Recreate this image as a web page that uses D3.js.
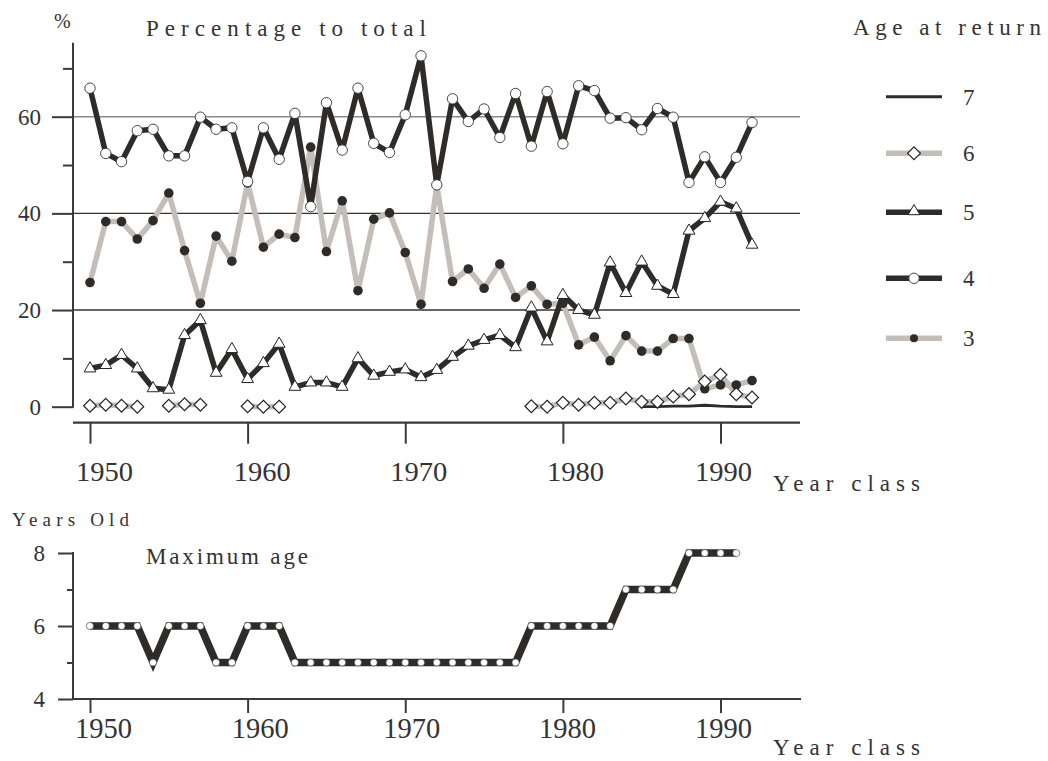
<!DOCTYPE html>
<html><head><meta charset="utf-8">
<script src="https://cdn.jsdelivr.net/npm/d3@7"></script>
<style>
html,body{margin:0;padding:0;background:#fff;}
text{font-family:"Liberation Serif","DejaVu Serif",serif !important;fill:#333;}
</style></head>
<body><svg id="c" width="1048" height="761"></svg>
<script>
const years = d3.range(1950, 1993);
const age3 = [25.7,38.3,38.3,34.7,38.5,44.2,32.3,21.4,35.3,30.1,
  46.3,33.0,35.7,35.0,53.7,32.1,42.6,24.0,38.8,40.1,
  31.9,21.2,45.8,25.9,28.5,24.5,29.5,22.6,25.0,21.2,
  21.4,12.8,14.4,9.5,14.7,11.5,11.5,14.1,14.1,3.7,
  4.5,4.5,5.4];
const age4 = [65.9,52.4,50.7,57.1,57.4,51.9,51.9,59.9,57.4,57.7,
  46.6,57.7,51.2,60.7,41.4,62.9,53.1,65.9,54.5,52.6,
  60.4,72.6,45.9,63.7,59.0,61.6,55.7,64.8,53.9,65.2,
  54.4,66.4,65.4,59.7,59.8,57.3,61.7,59.9,46.4,51.7,
  46.4,51.6,58.8];
const age5 = [7.9,8.6,10.7,7.9,3.8,3.5,14.8,17.9,7.0,11.9,
  5.7,9.0,13.0,4.1,5.0,5.0,4.1,10.0,6.4,7.2,
  7.7,6.1,7.6,10.3,12.6,13.8,14.8,12.3,20.5,13.5,
  23.1,20.0,19.0,29.8,23.5,30.0,25.0,23.3,36.4,39.0,
  42.4,41.0,33.5];
const age6 = [0.2,0.4,0.2,0.0,null,0.2,0.5,0.4,null,null,
  0.1,0.0,0.0,null,null,null,null,null,null,null,
  null,null,null,null,null,null,null,null,0.1,0.0,
  0.8,0.4,0.8,0.8,1.7,1.0,1.0,2.1,2.6,5.2,
  6.6,2.6,1.9];
const age7 = [null,null,null,null,null,null,null,null,null,null,
  null,null,null,null,null,null,null,null,null,null,
  null,null,null,null,null,null,null,null,null,null,
  null,null,null,null,null,0.0,0.0,0.1,0.1,0.3,
  0.1,0.0,0.0];
const maxYears = d3.range(1950, 1992);
const maxAge = [6,6,6,6,5,6,6,6,5,5,6,6,6,
  5,5,5,5,5,5,5,5,5,5,5,5,5,5,5,
  6,6,6,6,6,6,7,7,7,7,8,8,8,8];
const xTicks = [1950,1960,1970,1980,1990];
const yMajor = [0,20,40,60];
const yMinor = [10,30,50,70];
const y2Major = [4,6,8];
const y2Minor = [5,7];
const legendLabels = ["7","6","5","4","3"];

const DARK = "#2e2b28", GRAY = "#c3beb9", AX = "#3a3a3a";
const SERIF = '"Liberation Serif","DejaVu Serif",serif';
const svg = d3.select("#c");

const x = d3.scaleLinear().domain([1950,1990]).range([90,720.5]);
const y = d3.scaleLinear().domain([0,60]).range([406.7,116.7]);
const y2 = d3.scaleLinear().domain([4,8]).range([699,553]);

// label offsets as seen in the reference
const topDx = {1950:14,1960:14,1970:13,1980:12,1990:2.5};
const botDx = {1950:13,1960:12,1970:6,1980:4,1990:2.5};

function label(txt, xx, yy, size, len, anchor){
  const t = svg.append("text").attr("x",xx).attr("y",yy).text(txt)
    .style("font-size",size+"px").style("font-family",SERIF).attr("text-anchor",anchor||"start");
  if(len) t.attr("textLength",len).attr("lengthAdjust","spacing");
  return t;
}

// gridlines
const grid = svg.append("g");
grid.selectAll("line").data([20,40,60]).join("line")
  .attr("x1",73).attr("x2",800).attr("y1",d=>y(d)).attr("y2",d=>y(d))
  .attr("stroke",d=>d===60?"#8a8a8a":"#333").attr("stroke-width",1.4);

// top y axis
const gy = svg.append("g").attr("transform","translate(73,0)");
gy.call(d3.axisLeft(y).tickValues(yMajor).tickSize(21).tickSizeOuter(0).tickFormat(d3.format("d")))
  .call(g=>g.select(".domain").remove()).attr("font-family",null);
gy.selectAll(".tick line").attr("stroke",AX).attr("stroke-width",2);
gy.selectAll(".tick text").attr("x",-32).attr("dy","0.33em").style("font-size","23px").style("font-family",SERIF).attr("fill","#444");
gy.append("g").call(d3.axisLeft(y).tickValues(yMinor).tickSize(10).tickFormat(""))
  .call(g=>g.select(".domain").remove())
  .selectAll(".tick line").attr("stroke",AX).attr("stroke-width",2);
gy.append("line").attr("x1",0).attr("x2",0).attr("y1",y(75.3)).attr("y2",y(0)+1).attr("stroke",AX).attr("stroke-width",2);

// top x axis
const gx = svg.append("g").attr("transform","translate(0,422.7)");
gx.call(d3.axisBottom(x).tickValues(xTicks).tickSize(21).tickSizeOuter(0).tickFormat(d3.format("d")))
  .call(g=>g.select(".domain").remove()).attr("font-family",null);
gx.selectAll(".tick line").attr("stroke",AX).attr("stroke-width",2);
gx.selectAll(".tick text").attr("y",58).attr("dy",0).attr("dx",d=>topDx[d]).style("font-size","27px").style("font-family",SERIF).attr("fill","#444")
  .attr("textLength",57).attr("lengthAdjust","spacingAndGlyphs");
gx.append("line").attr("x1",73).attr("x2",800).attr("stroke",AX).attr("stroke-width",2.2);

// lines
function mkLine(sc){ return d3.line().defined(d=>d.v!=null).x(d=>x(d.yr)).y(d=>sc(d.v)); }
function series(arr){ return years.map((yr,i)=>({yr, v:arr[i]})); }
const L = mkLine(y);
const plot = svg.append("g");

const s3 = series(age3), s4 = series(age4), s5 = series(age5), s6 = series(age6), s7 = series(age7);
plot.append("path").datum(s3).attr("d",L).attr("fill","none").attr("stroke",GRAY).attr("stroke-width",5.5).attr("stroke-linejoin","round");
plot.append("path").datum(s6).attr("d",L).attr("fill","none").attr("stroke",GRAY).attr("stroke-width",5.5).attr("stroke-linejoin","round");
plot.append("path").datum(s7).attr("d",L).attr("fill","none").attr("stroke",DARK).attr("stroke-width",2.8);
plot.append("path").datum(s5).attr("d",L).attr("fill","none").attr("stroke",DARK).attr("stroke-width",5.5).attr("stroke-linejoin","round");
plot.append("path").datum(s4).attr("d",L).attr("fill","none").attr("stroke",DARK).attr("stroke-width",5.5).attr("stroke-linejoin","round");

const dia = d3.symbol().type(d3.symbolDiamond2).size(105);
const tri = d3.symbol().type(d3.symbolTriangle2).size(100);
function markers3(g, data){
  g.selectAll(null).data(data.filter(d=>d.v!=null)).join("circle")
   .attr("cx",d=>x(d.yr)).attr("cy",d=>y(d.v)).attr("r",4.8).attr("fill",DARK);
}
function markers6(g,data){
  g.selectAll(null).data(data.filter(d=>d.v!=null)).join("path")
   .attr("d",dia).attr("transform",d=>`translate(${x(d.yr)},${y(d.v)})`)
   .attr("fill","#fff").attr("stroke","#222").attr("stroke-width",1.2);
}
function markers5(g,data){
  g.selectAll(null).data(data.filter(d=>d.v!=null)).join("path")
   .attr("d",tri).attr("transform",d=>`translate(${x(d.yr)},${y(d.v)})`)
   .attr("fill","#fff").attr("stroke","#222").attr("stroke-width",1);
}
function markers4(g,data){
  g.selectAll(null).data(data.filter(d=>d.v!=null)).join("circle")
   .attr("cx",d=>x(d.yr)).attr("cy",d=>y(d.v)).attr("r",5.2)
   .attr("fill","#fff").attr("stroke","#333").attr("stroke-width",0.9);
}
markers3(plot.append("g"), s3);
markers6(plot.append("g"), s6);
markers5(plot.append("g"), s5);
markers4(plot.append("g"), s4);

// titles
label("%", 54, 28, 20).attr("fill","#555");
label("Percentage to total", 146, 36, 23, 280);
label("Age at return", 853, 35, 23, 188);
label("Year class", 773, 491, 23, 147);

// legend
const legY = [96.7,153.3,212.3,278.3,338.3];
const lg = svg.append("g");
legendLabels.forEach((lab,i)=>{
  const yy = legY[i];
  const g = lg.append("g");
  const col = (lab==="6"||lab==="3") ? GRAY : DARK;
  const w = lab==="7" ? 3 : 5.5;
  g.append("line").attr("x1",886).attr("x2",942).attr("y1",yy).attr("y2",yy).attr("stroke",col).attr("stroke-width",w);
  if(lab==="6") g.append("path").attr("d",dia).attr("transform",`translate(914,${yy})`).attr("fill","#fff").attr("stroke","#222").attr("stroke-width",1.2);
  if(lab==="5") g.append("path").attr("d",tri).attr("transform",`translate(914,${yy-1})`).attr("fill","#fff").attr("stroke","#222").attr("stroke-width",1);
  if(lab==="4") g.append("circle").attr("cx",914).attr("cy",yy).attr("r",5.2).attr("fill","#fff").attr("stroke","#333").attr("stroke-width",0.9);
  if(lab==="3") g.append("circle").attr("cx",914).attr("cy",yy).attr("r",4).attr("fill",DARK);
  g.append("text").attr("x",963).attr("y",yy).attr("dy","0.34em").text(lab).style("font-size","23px").style("font-family",SERIF).attr("fill","#444");
});

// bottom chart
const by = svg.append("g").attr("transform","translate(73,0)");
by.call(d3.axisLeft(y2).tickValues(y2Major).tickSize(15).tickSizeOuter(0).tickFormat(d3.format("d")))
  .call(g=>g.select(".domain").remove()).attr("font-family",null);
by.selectAll(".tick line").attr("stroke",AX).attr("stroke-width",2);
by.selectAll(".tick text").attr("x",-28).attr("dy","0.33em").style("font-size","23px").style("font-family",SERIF).attr("fill","#444");
by.append("g").call(d3.axisLeft(y2).tickValues(y2Minor).tickSize(6).tickFormat(""))
  .call(g=>g.select(".domain").remove())
  .selectAll(".tick line").attr("stroke",AX).attr("stroke-width",2);
by.append("line").attr("x1",0).attr("x2",0).attr("y1",y2(8)-1).attr("y2",y2(4)+1).attr("stroke",AX).attr("stroke-width",2);

const bx = svg.append("g").attr("transform","translate(0,699)");
bx.call(d3.axisBottom(x).tickValues(xTicks).tickSize(14).tickSizeOuter(0).tickFormat(d3.format("d")))
  .call(g=>g.select(".domain").remove()).attr("font-family",null);
bx.selectAll(".tick line").attr("stroke",AX).attr("stroke-width",2);
bx.selectAll(".tick text").attr("y",39).attr("dy",0).attr("dx",d=>botDx[d]).style("font-size","30px").style("font-family",SERIF).attr("fill","#444")
  .attr("textLength",57).attr("lengthAdjust","spacingAndGlyphs");
bx.append("line").attr("x1",73).attr("x2",801).attr("stroke",AX).attr("stroke-width",2.2);

const mdata = maxYears.map((yr,i)=>({yr, v:maxAge[i]}));
const L2 = d3.line().x(d=>x(d.yr)).y(d=>y2(d.v));
svg.append("path").datum(mdata).attr("d",L2).attr("fill","none").attr("stroke",DARK).attr("stroke-width",7.5).attr("stroke-linejoin","miter");
svg.append("g").selectAll("circle").data(mdata).join("circle")
  .attr("cx",d=>x(d.yr)).attr("cy",d=>y2(d.v)).attr("r",3.6)
  .attr("fill","#fff").attr("stroke","#333").attr("stroke-width",0.6);

label("Years Old", 12, 526, 19, 117).attr("fill","#444");
label("Maximum age", 146, 564, 23, 162);
label("Year class", 773, 755, 23, 147);
</script></body></html>
